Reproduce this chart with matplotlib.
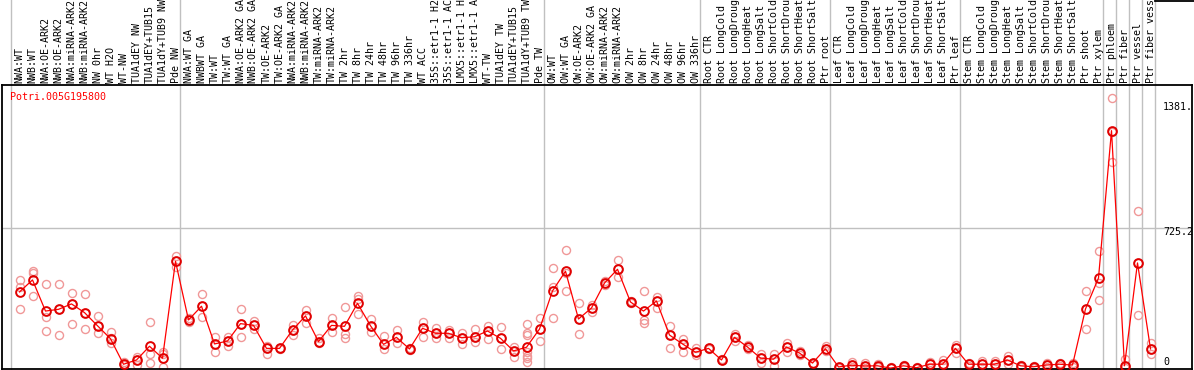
import numpy as np
import matplotlib
matplotlib.use("Agg")
import matplotlib.pyplot as plt
from matplotlib.lines import Line2D

# ---------------------------
# DATA
# ---------------------------
gene_id = "Potri.005G195800"

labels = [
    # NW
    "NWA:WT", "NWB:WT", "NWA:OE-ARK2", "NWB:OE-ARK2", "NWA:miRNA-ARK2",
    "NWB:miRNA-ARK2", "NW 0hr", "WT H2O", "WT-NW", "TUA1dEY NW",
    "TUA1dEY+TUB15", "TUA1dY+TUB9 NW", "Pde NW",
    # TW
    "NWA:WT GA", "NWBWT GA", "TW:WT", "TW:WT GA", "NWA:OE-ARK2 GA",
    "NWB:OE-ARK2 GA", "TW:OE-ARK2", "TW:OE-ARK2 GA", "NWA:miRNA-ARK2",
    "NWB:miRNA-ARK2", "TW:miRNA-ARK2", "TW:miRNA-ARK2", "TW 2hr", "TW 8hr",
    "TW 24hr", "TW 48hr", "TW 96hr", "TW 336hr", "WT ACC", "35S::etr1-1 H2",
    "35S::etr1-1 AC", "LMX5::etr1-1 H", "LMX5::etr1-1 A", "WT-TW",
    "TUA1dEY TW", "TUA1dEY+TUB15", "TUA1dY+TUB9 TW", "Pde TW",
    # OW
    "OW:WT", "OW:WT GA", "OW:OE-ARK2", "OW:OE-ARK2 GA", "OW:miRNA-ARK2",
    "OW:miRNA-ARK2", "OW 2hr", "OW 8hr", "OW 24hr", "OW 48hr", "OW 96hr",
    "OW 336hr",
    # root
    "Root CTR", "Root LongCold", "Root LongDroug", "Root LongHeat",
    "Root LongSalt", "Root ShortCold", "Root ShortDrou", "Root ShortHeat",
    "Root ShortSalt", "Ptr root",
    # leaf
    "Leaf CTR", "Leaf LongCold", "Leaf LongDroug", "Leaf LongHeat",
    "Leaf LongSalt", "Leaf ShortCold", "Leaf ShortDrou", "Leaf ShortHeat",
    "Leaf ShortSalt", "Ptr leaf",
    # stem
    "Stem CTR", "Stem LongCold", "Stem LongDroug", "Stem LongHeat",
    "Stem LongSalt", "Stem ShortCold", "Stem ShortDrou", "Stem ShortHeat",
    "Stem ShortSalt", "Ptr shoot", "Ptr xylem",
    # single tissues
    "Ptr phloem", "Ptr fiber", "Ptr vessel", "Ptr fiber vess",
]

group_sizes = [13, 28, 12, 10, 10, 11, 1, 1, 1, 1]

means = [
    396, 458, 297, 306, 334, 289, 221, 154, 22, 44, 115, 53, 554,
    251, 322, 127, 142, 232, 223, 104, 104, 199, 272, 139, 223, 218, 337,
    221, 125, 161, 101, 208, 182, 182, 159, 164, 194, 156, 91, 110, 204,
    401, 503, 256, 313, 442, 513, 344, 297, 349, 173, 127, 84,
    104, 44, 161, 111, 54, 48, 111, 80, 28, 102,
    8, 17, 13, 14, 2, 14, 4, 22, 22, 104,
    22, 22, 22, 44, 14, 9, 18, 22, 18, 308, 468,
    1230, 14, 546, 101,
]

reps = [
    [458, 420, 308], [504, 496, 373], [437, 265, 194], [437, 308, 172],
    [389, 334, 229], [384, 289, 203], [270, 221, 182], [190, 158, 130],
    [34, 22, 18], [61, 44, 18], [239, 75, 30], [84, 75, 9],
    [582, 554, 527],
    [260, 251, 242], [384, 322, 265], [164, 127, 85], [161, 142, 116],
    [306, 232, 161], [246, 223, 203], [116, 104, 75], [106, 104, 101],
    [225, 199, 173], [303, 272, 237], [156, 139, 130], [260, 223, 187],
    [317, 178, 156], [375, 358, 282], [258, 221, 190], [170, 125, 99],
    [199, 161, 130], [108, 101, 96], [241, 208, 164], [211, 182, 156],
    [199, 182, 156], [182, 159, 127], [204, 164, 136], [221, 194, 151],
    [216, 158, 101], [113, 91, 61],
    [229, 182, 173, 87, 66, 53, 32], [260, 204, 142],
    [518, 420, 263], [613, 495, 401], [337, 256, 177], [328, 313, 292],
    [453, 442, 432], [560, 513, 472], [351, 344, 337], [401, 251, 237],
    [371, 349, 314], [221, 173, 106], [153, 127, 85], [104, 84, 70],
    [108, 104, 101], [47, 44, 42], [177, 161, 142], [122, 111, 101],
    [73, 54, 30], [75, 48, 14], [130, 111, 87], [91, 80, 70], [31, 28, 25],
    [118, 102, 92],
    [10, 8, 5], [35, 17, 8], [28, 13, 5], [22, 14, 8], [6, 2, 0],
    [20, 14, 9], [8, 4, 0], [35, 22, 9], [44, 22, 13], [122, 104, 82],
    [26, 22, 14], [39, 22, 10], [39, 22, 10], [65, 44, 22], [18, 14, 10],
    [14, 9, 5], [30, 18, 8], [30, 22, 14], [30, 18, 8], [401, 308, 203],
    [608, 441, 354],
    [1398, 1225, 1067], [48, 14, 0], [815, 546, 277], [133, 101, 73],
]

axis_labels = [1381, 725.2, 0]

# ---------------------------
# FIGURE
# ---------------------------
W, H = 1194, 370
mono = "DejaVu Sans Mono"
fs = 7.2

fig = plt.figure(figsize=(W / 100, H / 100), dpi=100)
ax = fig.add_axes([2 / W, 1 / H, 1190 / W, 284 / H])

x = np.arange(len(labels))
col_w = 13.0
x0_px = 19.5
ax.set_xlim((2 - x0_px) / col_w, (1192 - x0_px) / col_w)
ax.set_ylim(-2.6, 1466)
ax.set_xticks([])
ax.set_yticks([])
for s in ax.spines.values():
    s.set_color("black")
    s.set_linewidth(1.3)

# group separators, running up through the label area
bounds = np.concatenate([[0], np.cumsum(group_sizes)])
top_frac = 369 / 284
for b in bounds:
    ax.axvline(b - 0.63, ymin=0, ymax=top_frac, color="#c0c0c0", lw=1.0,
               clip_on=False, zorder=1)

ax.axhline(725.2, color="#c0c0c0", lw=1.0, zorder=1)

# replicate points
for i, vals in enumerate(reps):
    ax.plot([i] * len(vals), vals, linestyle="none", marker="o",
            markersize=5.8, markerfacecolor="none", markeredgecolor="#f09898",
            markeredgewidth=1.0, zorder=2, clip_on=True)

# means
ax.plot(x, means, color="red", lw=0.9, zorder=3)
ax.plot(x, means, linestyle="none", marker="o", markersize=6.3,
        markerfacecolor="none", markeredgecolor="#e00000",
        markeredgewidth=1.4, zorder=4)

# column labels on top
for i, lab in enumerate(labels):
    ax.annotate(lab, xy=(i, 1), xycoords=("data", "axes fraction"),
                xytext=(0, 2), textcoords="offset pixels",
                rotation=90, ha="center", va="bottom",
                fontsize=fs, family=mono, annotation_clip=False)

# value labels on the right
offsets = [-6, -4, 6]
for v, off in zip(axis_labels, offsets):
    ax.annotate(f"{v:g}." if v == 1381 else f"{v:g}", xy=(0, v),
                xycoords=("axes fraction", "data"),
                xytext=(1163 - 2, off), textcoords="offset pixels",
                ha="left", va="center", fontsize=fs, family=mono,
                annotation_clip=False)

fig.text(10 / W, 1 - 97 / H, gene_id, color="red", fontsize=fs,
         family=mono, ha="left", va="center")

fig.add_artist(Line2D([1155 / W, 1], [1 - 1 / H, 1 - 1 / H],
                      color="black", lw=1.3, transform=fig.transFigure))

fig.savefig("out.png", dpi=100)
